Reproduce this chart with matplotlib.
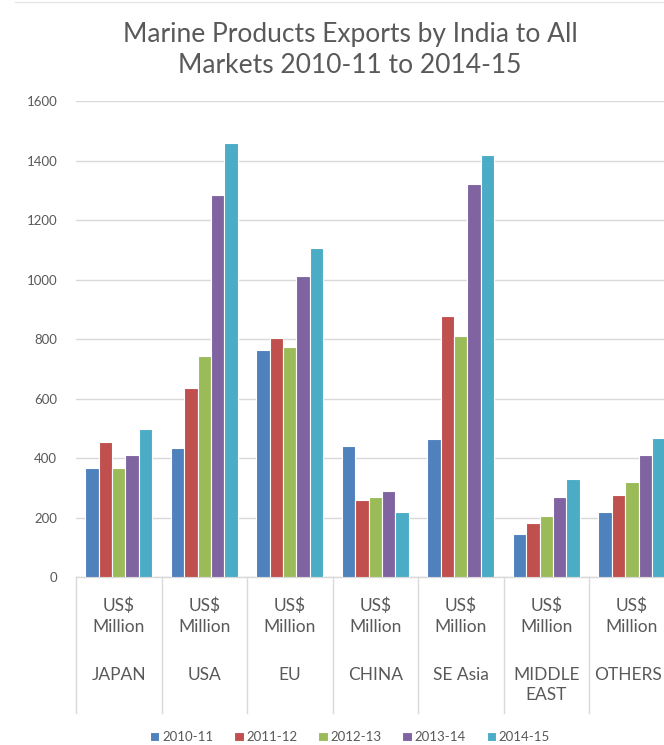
import numpy as np
import matplotlib
matplotlib.use('Agg')
import matplotlib.pyplot as plt
from matplotlib.transforms import blended_transform_factory
from matplotlib.lines import Line2D

plt.rcParams['font.family'] = ['Lato', 'DejaVu Sans']

regions = ['JAPAN', 'USA', 'EU', 'CHINA', 'SE Asia', 'MIDDLE\nEAST', 'OTHERS']
unit_label = 'US$\nMillion'
years = ['2010-11', '2011-12', '2012-13', '2013-14', '2014-15']

y2010 = [368, 436, 764, 440, 466, 146, 219]
y2011 = [455, 637, 804, 261, 879, 183, 275]
y2012 = [368, 745, 775, 269, 812, 205, 320]
y2013 = [410, 1284, 1013, 290, 1321, 269, 410]
y2014 = [498, 1460, 1106, 219, 1419, 331, 469]
series = [y2010, y2011, y2012, y2013, y2014]

colors = ['#4F81BD', '#C0504D', '#9BBB59', '#8064A2', '#4BACC6']
grey_txt = '#595959'
grid_col = '#d9d9d9'

fig = plt.figure(figsize=(6.64, 7.45), dpi=100)
ax = fig.add_axes([76/664, 1-577.3/745, 598.6/664, 476.3/745])

x = np.arange(len(regions))
slot = 0.156
for i, (vals, col) in enumerate(zip(series, colors)):
    ax.bar(x + (i - 2)*slot, vals, width=slot, color=col, edgecolor='white',
           linewidth=0.8, label=years[i], zorder=3)

ax.set_xlim(-0.5, len(regions) - 0.5)
ax.set_ylim(0, 1600)
ax.set_yticks(range(0, 1601, 200))
ax.yaxis.grid(True, color=grid_col, linewidth=1, zorder=0)
ax.tick_params(axis='y', length=0, labelsize=9.5, labelcolor=grey_txt, pad=13.5)
ax.set_xticks([])
for s in ['top', 'right', 'left']:
    ax.spines[s].set_visible(False)
ax.spines['bottom'].set_color(grid_col)
ax.spines['bottom'].set_linewidth(1)

# two-level category axis, one text per line so baselines line up
tr = blended_transform_factory(ax.transData, ax.transAxes)
tr_edge = blended_transform_factory(fig.transFigure, ax.transAxes)
for k in range(len(regions) + 1):
    ax.plot([k - 0.5, k - 0.5], [0, -0.285], color=grid_col, lw=1,
            transform=tr, clip_on=False)
unit_rows = [-0.070, -0.1144]
name_rows = [-0.2156, -0.2576]
for k, name in enumerate(regions):
    for line, yy in zip(unit_label.split('\n'), unit_rows):
        ax.text(k, yy, line, transform=tr, ha='center', va='baseline',
                fontsize=12.5, color=grey_txt)
    for line, yy in zip(name.split('\n'), name_rows):
        if k == len(regions) - 1:
            # last group runs off the right edge, keep its label inside
            ax.text(662/664, yy, line, transform=tr_edge, ha='right', va='baseline',
                    fontsize=12.5, color=grey_txt)
        else:
            ax.text(k, yy, line, transform=tr, ha='center', va='baseline',
                    fontsize=12.5, color=grey_txt)

fig.text(350/664, 1-50/745, 'Marine Products Exports by India to All\nMarkets 2010-11 to 2014-15',
         ha='center', va='center', fontsize=19, color=grey_txt, linespacing=1.3)

fig.add_artist(Line2D([15/664, 1], [1-2/745, 1-2/745], color='#e6e6e6', lw=1))

fig.legend(loc='center', bbox_to_anchor=(350/664, 1-737/745), ncol=5, frameon=False,
           handlelength=0.7, handleheight=0.7, handletextpad=0.2, columnspacing=1.6,
           fontsize=9.5, labelcolor=grey_txt)

fig.savefig('out.png', dpi=100)
